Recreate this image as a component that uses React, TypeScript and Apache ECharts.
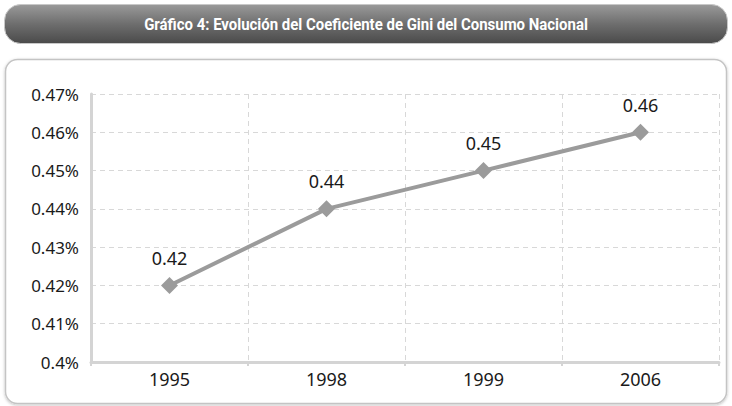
import React, { useEffect, useRef } from "react";
import * as echarts from "echarts";

const title = "Gráfico 4: Evolución del Coeficiente de Gini del Consumo Nacional";
const categories = ["1995", "1998", "1999", "2006"];
const giniValues = [0.42, 0.44, 0.45, 0.46];
const yMin = 0.4;
const yMax = 0.47;
const yStep = 0.01;

export default function App() {
  const ref = useRef<HTMLDivElement>(null);
  useEffect(() => {
    document.body.style.margin = "0";
    const chart = echarts.init(ref.current!, null, { renderer: "svg" });
    const font = "'Noto Sans', 'DejaVu Sans', sans-serif";
    chart.setOption({
      animation: false,
      backgroundColor: "#ffffff",
      graphic: [
        {
          type: "rect",
          shape: { x: 4.5, y: 4.5, width: 723, height: 39, r: 16 },
          style: {
            fill: new echarts.graphic.LinearGradient(0, 0, 0, 1, [
              { offset: 0, color: "#9a9a9a" },
              { offset: 0.5, color: "#6e6e6e" },
              { offset: 1, color: "#4a4a4a" },
            ]),
            stroke: "#c8c8c8",
            lineWidth: 1,
          },
        },
        {
          type: "text",
          x: 366,
          y: 24,
          scaleX: 0.88,
          style: {
            text: title,
            fill: "#ffffff",
            font: "bold 17px 'Roboto', sans-serif",
            align: "center",
            verticalAlign: "middle",
          },
        },
        {
          type: "rect",
          z: -10,
          shape: { x: 5.5, y: 59.5, width: 721, height: 344, r: 12 },
          style: {
            fill: "#ffffff",
            stroke: "#c4c4c4",
            lineWidth: 1.5,
            shadowBlur: 3,
            shadowColor: "rgba(0,0,0,0.25)",
            shadowOffsetY: 1,
          },
        },
      ],
      grid: { left: 91, right: 13, top: 94, bottom: 44, containLabel: false },
      xAxis: {
        type: "category",
        data: categories,
        boundaryGap: true,
        axisLine: { lineStyle: { color: "#d4d4d4", width: 3 } },
        axisTick: { show: true, length: 4, lineStyle: { color: "#d4d4d4", width: 2 } },
        axisLabel: { color: "#1a1a1a", fontSize: 18, fontFamily: font, margin: 8 },
        splitLine: { show: true, lineStyle: { color: "#d8d8d8", type: [5, 4], width: 1 } },
      },
      yAxis: {
        type: "value",
        min: yMin,
        max: yMax,
        interval: yStep,
        axisLine: { show: true, lineStyle: { color: "#d4d4d4", width: 3 } },
        axisTick: { show: false },
        axisLabel: {
          color: "#1a1a1a",
          fontSize: 17,
          fontFamily: font,
          margin: 12,
          formatter: (v: number) => `${Number(v.toFixed(2))}%`,
        },
        splitLine: { show: true, lineStyle: { color: "#d8d8d8", type: [5, 4], width: 1 } },
      },
      series: [
        {
          type: "line",
          data: giniValues,
          symbol: "diamond",
          symbolSize: 17,
          lineStyle: { color: "#9b9b9b", width: 4 },
          itemStyle: { color: "#9b9b9b" },
          label: {
            show: true,
            position: "top",
            distance: 10,
            color: "#1a1a1a",
            fontSize: 18,
            fontFamily: font,
            formatter: (p: any) => p.value.toFixed(2),
          },
        },
      ],
    });
    return () => chart.dispose();
  }, []);
  return <div ref={ref} style={{ width: 732, height: 406 }} />;
}
